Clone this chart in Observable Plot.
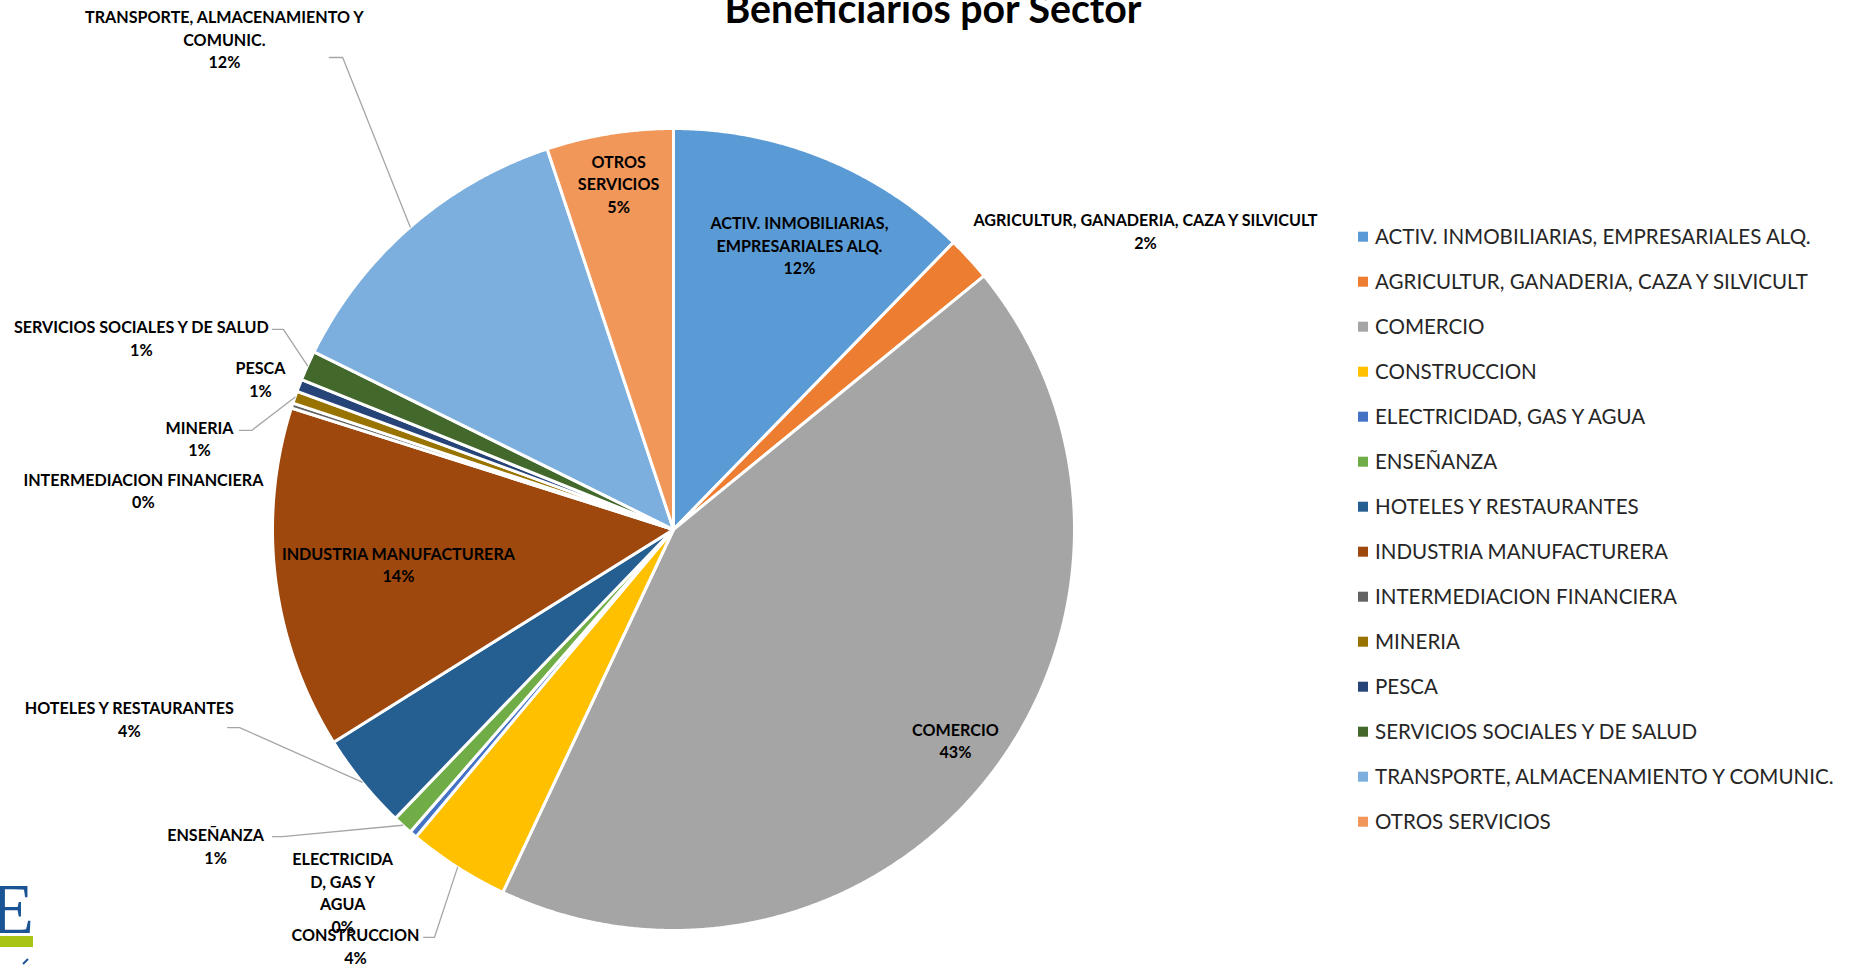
<!DOCTYPE html>
<html>
<head>
<meta charset="utf-8">
<script src="https://cdn.jsdelivr.net/npm/d3@7"></script>
<script src="https://cdn.jsdelivr.net/npm/@observablehq/plot@0.6"></script>
<style>
  html, body { margin: 0; padding: 0; background: #fff; }
  #wrap { position: relative; width: 1856px; height: 965px; overflow: hidden; background: #fff; }
  #wrap > svg { position: absolute; left: 0; top: 0; }
</style>
</head>
<body>
<div id="wrap"></div>
<script>
// ---------------- DATA ----------------
const sectors = [
  "ACTIV. INMOBILIARIAS, EMPRESARIALES ALQ.",
  "AGRICULTUR, GANADERIA, CAZA Y SILVICULT",
  "COMERCIO",
  "CONSTRUCCION",
  "ELECTRICIDAD, GAS Y AGUA",
  "ENSEÑANZA",
  "HOTELES Y RESTAURANTES",
  "INDUSTRIA MANUFACTURERA",
  "INTERMEDIACION FINANCIERA",
  "MINERIA",
  "PESCA",
  "SERVICIOS SOCIALES Y DE SALUD",
  "TRANSPORTE, ALMACENAMIENTO Y COMUNIC.",
  "OTROS SERVICIOS"
];
// share of beneficiaries (%)
const shares = [12.3, 1.8, 42.9, 4.1, 0.3, 0.8, 3.9, 13.8, 0.2, 0.5, 0.5, 1.2, 12.6, 5.1];
// percentages printed on the data labels
const pctLabels = ["12%", "2%", "43%", "4%", "0%", "1%", "4%", "14%", "0%", "1%", "1%", "1%", "12%", "5%"];
// category names as wrapped on the data labels
const labelNames = [
  "ACTIV. INMOBILIARIAS,\nEMPRESARIALES ALQ.",
  "AGRICULTUR, GANADERIA, CAZA Y SILVICULT",
  "COMERCIO",
  "CONSTRUCCION",
  "ELECTRICIDA\nD, GAS Y\nAGUA",
  "ENSEÑANZA",
  "HOTELES Y RESTAURANTES",
  "INDUSTRIA MANUFACTURERA",
  "INTERMEDIACION FINANCIERA",
  "MINERIA",
  "PESCA",
  "SERVICIOS SOCIALES Y DE SALUD",
  "TRANSPORTE, ALMACENAMIENTO Y\nCOMUNIC.",
  "OTROS\nSERVICIOS"
];
const colors = ["#5B9BD5", "#ED7D31", "#A5A5A5", "#FFC000", "#4472C4", "#70AD47", "#255E91",
                "#9E480E", "#636363", "#997300", "#264478", "#43682B", "#7CAFDD", "#F1975A"];
const titleText = "Beneficiarios por Sector";

// ---------------- LAYOUT (label placement, in pie-radius units) ----------------
const labelX = [0.314, 1.177, 0.703, -0.793, -0.825, -1.142, -1.357, -0.686, -1.322, -1.182, -1.030, -1.327, -1.120, -0.137];
const labelY = [0.711, 0.746, -0.524, -1.037, -0.904, -0.787, -0.471, -0.085, 0.099, 0.229, 0.377, 0.479, 1.224, 0.864];
const leaderIdx = [3, 5, 6, 9, 11, 12];
const leaderStartX = [-0.623, -1.000, -1.112, -1.082, -1.000, -0.858];
const leaderElbowX = [-0.596, -0.975, -1.082, -1.052, -0.973, -0.825];
const leaderY = [-1.017, -0.766, -0.494, 0.247, 0.499, 1.177];

// ---------------- font fitting ----------------
const ctx = document.createElement("canvas").getContext("2d");
function fitSize(text, weight, family, target) {
  ctx.font = `${weight} 100px ${family}`;
  return 100 * target / ctx.measureText(text).width;
}
const FAM = "Lato";
const labelSize = (fitSize("AGRICULTUR, GANADERIA, CAZA Y SILVICULT", "bold", FAM, 348) +
                   fitSize("INDUSTRIA MANUFACTURERA", "bold", FAM, 235) +
                   fitSize("SERVICIOS SOCIALES Y DE SALUD", "bold", FAM, 254)) / 3;
const titleSize = fitSize(titleText, "bold", FAM, 418);
const legendSize = fitSize("TRANSPORTE, ALMACENAMIENTO Y COMUNIC.", "normal", FAM, 461);

// ---------------- build geometry through d3.pie ----------------
const pie = d3.pie().sort(null).value(d => d)(shares);
const poly = [];
pie.forEach((p, i) => {
  const s = sectors[i];
  poly.push({sector: s, x: 0, y: 0});
  const n = Math.max(2, Math.ceil((p.endAngle - p.startAngle) / (Math.PI / 720)));
  for (let k = 0; k <= n; k++) {
    const a = p.startAngle + (p.endAngle - p.startAngle) * k / n;
    poly.push({sector: s, x: Math.sin(a), y: Math.cos(a)});
  }
  poly.push({sector: s, x: 0, y: 0});
});

const labels = sectors.map((s, i) => ({
  sector: s, text: labelNames[i] + "\n" + pctLabels[i], x: labelX[i], y: labelY[i]
}));

const leaders = [];
leaderIdx.forEach((i, k) => {
  const p = pie[i];
  const a = (p.startAngle + p.endAngle) / 2;
  const s = sectors[i];
  leaders.push({sector: s, x: leaderStartX[k], y: leaderY[k]});
  leaders.push({sector: s, x: leaderElbowX[k], y: leaderY[k]});
  leaders.push({sector: s, x: Math.sin(a), y: Math.cos(a)});
});

const chart = Plot.plot({
  width: 1856,
  height: 965,
  margin: 0,
  style: {background: "transparent", fontFamily: FAM, overflow: "visible"},
  x: {domain: [-1, 1], range: [272, 1074], axis: null},
  y: {domain: [-1, 1], range: [930, 128], axis: null},
  color: {domain: sectors, range: colors},
  marks: [
    Plot.line(poly, {x: "x", y: "y", z: "sector", fill: "sector", stroke: "white",
                     strokeWidth: 3, strokeLinejoin: "round", curve: "linear"}),
    Plot.line(leaders, {x: "x", y: "y", z: "sector", stroke: "#A6A6A6", strokeWidth: 1.3, curve: "linear"}),
    Plot.text(labels, {x: "x", y: "y", text: "text", fontSize: labelSize, fontWeight: "bold",
                       fontFamily: FAM, fill: "#000", lineHeight: 22.5 / labelSize,
                       textAnchor: "middle", lineAnchor: "middle"})
  ]
});
const wrap = document.getElementById("wrap");
wrap.appendChild(chart);

// ---------------- title, legend, logo overlay ----------------
const ov = d3.select(wrap).append("svg")
  .attr("width", 1856).attr("height", 965)
  .style("pointer-events", "none")
  .attr("font-family", FAM);

ov.append("text")
  .attr("x", 933).attr("y", 23)
  .attr("text-anchor", "middle")
  .attr("font-weight", "bold")
  .attr("font-size", titleSize)
  .attr("fill", "#000")
  .text(titleText);

const lg = ov.append("g");
sectors.forEach((s, i) => {
  const cy = 236.7 + 45 * i;
  lg.append("rect").attr("x", 1358).attr("y", cy - 5).attr("width", 10).attr("height", 10).attr("fill", colors[i]);
  lg.append("text").attr("x", 1375).attr("y", cy + 0.36 * legendSize)
    .attr("font-size", legendSize).attr("fill", "#262626").text(s);
});

// partial logo in the lower-left corner
ov.append("text").attr("x", 34).attr("y", 933).attr("text-anchor", "end")
  .attr("font-family", "Liberation Serif").attr("font-size", 72).attr("fill", "#1B5495").text("E");
ov.append("rect").attr("x", 0).attr("y", 936).attr("width", 33).attr("height", 11).attr("fill", "#A9C414");
ov.append("line").attr("x1", 23).attr("y1", 964).attr("x2", 28).attr("y2", 959)
  .attr("stroke", "#1B5495").attr("stroke-width", 2);
</script>
</body>
</html>
